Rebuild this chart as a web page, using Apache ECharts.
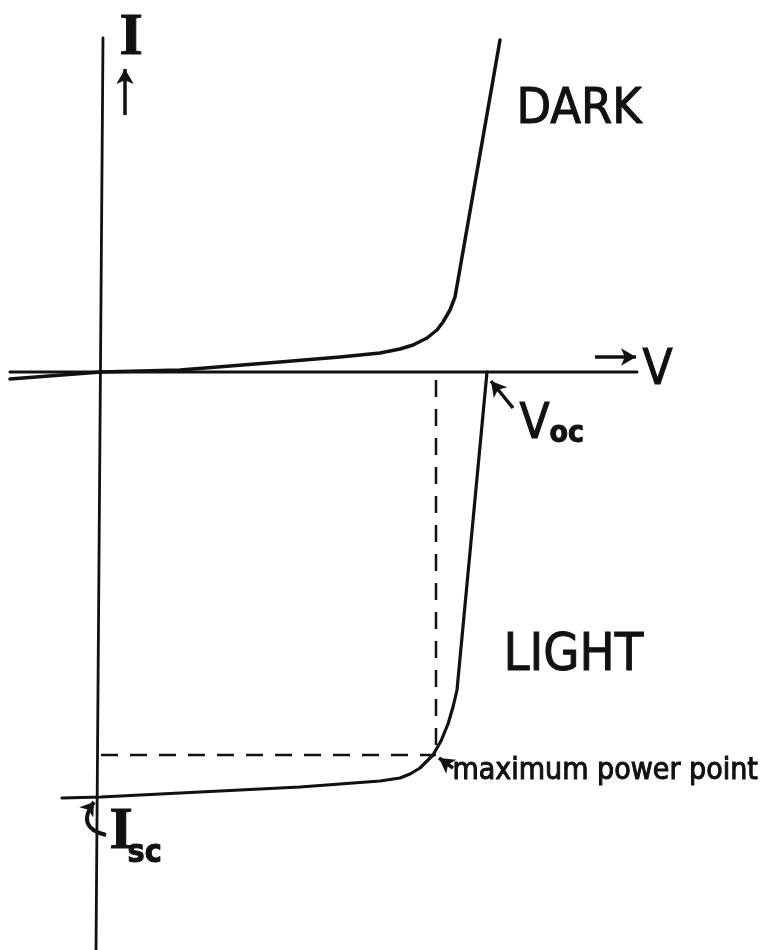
<!DOCTYPE html>
<html>
<head>
<meta charset="utf-8">
<script src="https://cdn.jsdelivr.net/npm/echarts@6/dist/echarts.min.js"></script>
<style>
  html, body { margin: 0; padding: 0; background: #fff; }
  #chart { width: 781px; height: 950px; }
</style>
</head>
<body>
<div id="chart"></div>
<script>
// Solar cell I-V characteristic, arbitrary units (V to the right, I upward)

// Dark characteristic (forward-biased diode)
const darkV = [-0.91, 0.00, 0.79, 1.79, 2.39, 2.59, 2.79, 2.99, 3.12, 3.26, 3.36, 3.42, 3.49, 3.54, 3.57, 3.99];
const darkI = [-0.07, 0.00, 0.02, 0.10, 0.15, 0.17, 0.19, 0.23, 0.27, 0.34, 0.42, 0.50, 0.62, 0.75, 0.92, 3.32];

// Illuminated characteristic, from Isc up to Voc
const lightV = [-0.39, 0.00, 0.99, 1.99, 2.79, 2.99, 3.09, 3.19, 3.26, 3.32, 3.40, 3.47, 3.52, 3.56, 3.86];
const lightI = [-4.26, -4.25, -4.20, -4.15, -4.09, -4.06, -4.02, -3.96, -3.89, -3.83, -3.69, -3.52, -3.35, -3.18, 0.00];

// Key operating points
const Voc = 3.86;
const Isc = -4.25;
const Vmp = 3.35;
const Imp = -3.83;

// Axis lines (the I axis is drawn slightly leaning)
const iAxisV = [0.02, -0.05];
const iAxisI = [3.34, -5.78];
const vAxisV = [-0.91, 5.36];
const vAxisI = [0, 0];

const zip = (a, b) => a.map((v, i) => [v, b[i]]);

const chart = echarts.init(document.getElementById('chart'), null, { renderer: 'canvas' });

const ink = '#111';
const hand = "'DejaVu Sans Condensed', 'DejaVu Sans', sans-serif";
const serif = "'Liberation Serif', 'DejaVu Serif', serif";

function lineSeries(data, width, extra) {
  return Object.assign({
    type: 'line',
    data: data,
    symbol: 'none',
    silent: true,
    animation: false,
    lineStyle: { color: ink, width: width, cap: 'round', join: 'round' }
  }, extra || {});
}

function label(text, left, top, font) {
  return {
    type: 'text', left: left, top: top, silent: true,
    style: { text: text, font: font, fill: ink, stroke: ink, lineWidth: 1 }
  };
}

chart.setOption({
  backgroundColor: '#fff',
  animation: false,
  grid: { left: 0, right: 0, top: 0, bottom: 0 },
  xAxis: { type: 'value', min: -1.01, max: 6.80, show: false },
  yAxis: { type: 'value', min: -5.78, max: 3.72, show: false },
  series: [
    lineSeries(zip(iAxisV, iAxisI), 2.8),
    lineSeries(zip(vAxisV, vAxisI), 3),
    lineSeries(zip(darkV, darkI), 3.5),
    lineSeries(zip(lightV, lightI), 3.2),
    lineSeries([[0, Imp], [Vmp, Imp]], 2.5, {
      lineStyle: { color: ink, width: 2.5, type: [17, 12] }
    }),
    lineSeries([[Vmp, -0.08], [Vmp, Imp]], 2.5, {
      lineStyle: { color: ink, width: 2.5, type: [17, 12] }
    }),
    {
      type: 'line',
      data: [],
      silent: true,
      animation: false,
      markLine: {
        silent: true,
        animation: false,
        symbol: ['none', 'arrow'],
        symbolSize: [13, 15],
        label: { show: false },
        lineStyle: { color: ink, width: 3.5, type: 'solid' },
        data: [
          // V axis arrow
          [{ coord: [4.94, 0.15] }, { coord: [5.35, 0.15] }],
          // I axis arrow
          [{ coord: [0.24, 2.57] }, { coord: [0.24, 3.03] }],
          // pointer to Voc
          [{ coord: [Voc + 0.26, -0.36] }, { coord: [Voc + 0.04, -0.09] }],
          // pointer to maximum power point
          [{ coord: [Vmp + 0.17, Imp - 0.13] }, { coord: [Vmp + 0.03, Imp - 0.03] }]
        ]
      }
    },
    {
      // curved pointer to Isc
      type: 'lines',
      coordinateSystem: 'cartesian2d',
      silent: true,
      animation: false,
      symbol: ['none', 'arrow'],
      symbolSize: [12, 13],
      lineStyle: { color: ink, width: 4, curveness: 0.75, opacity: 1 },
      data: [{ coords: [[0.05, Isc - 0.38], [-0.07, Isc - 0.05]] }]
    }
  ],
  graphic: [
    label('I', 119, 8, 'bold 60px ' + serif),
    label('V', 642, 346, '49px ' + hand),
    label('DARK', 516, 85, '50px ' + hand),
    label('LIGHT', 503, 630, '52px ' + hand),
    label('V', 519, 400, '49px ' + hand),
    label('oc', 549, 419, 'bold 30px ' + hand),
    label('I', 109, 802, 'bold 60px ' + serif),
    label('sc', 127, 837, 'bold 32px ' + hand),
    label('maximum power point', 452, 756, '30px ' + hand)
  ]
});
</script>
</body>
</html>
